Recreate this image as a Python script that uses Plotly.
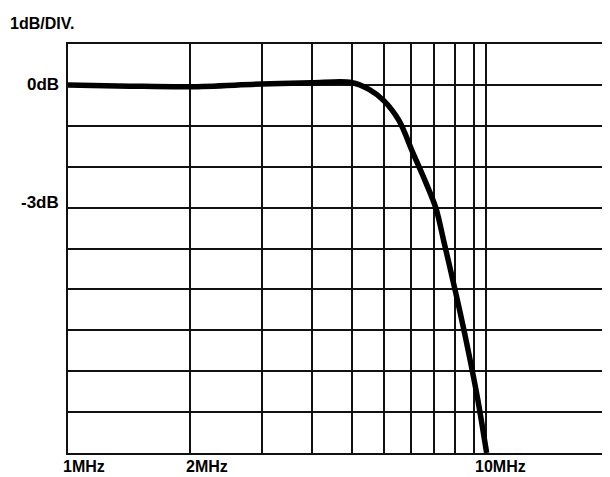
import math
import plotly.graph_objects as go

# Frequency response data
freq_mhz = [1.0, 1.42, 2.0, 3.0, 3.98, 4.99, 5.52, 6.01, 6.54, 7.08, 7.62, 8.07, 8.44, 8.78, 9.24, 9.72, 10.23, 10.76]
gain_db = [0.0, -0.03, -0.045, 0.02, 0.05, 0.06, -0.11, -0.39, -0.87, -1.66, -2.39, -3.02, -3.83, -4.56, -5.53, -6.56, -7.69, -9.0]

# Grid / tick definitions
grid_mhz = [1, 2, 3, 4, 5, 6, 7, 8, 9, 10, 10.7]
x_labels = ["1MHz", "2MHz", "10MHz"]
x_label_pos = [1, 2, 10]
y_labels = ["0dB", "-3dB"]
y_label_pos = [0, -3]
x_max_mhz = 21.3
y_range = [-9, 1]

FONT = "Liberation Sans, Arial, sans-serif"

fig = go.Figure()
fig.add_trace(go.Scatter(
    x=freq_mhz, y=gain_db, mode="lines",
    line=dict(color="black", width=5.5, shape="spline", smoothing=0.9),
    hoverinfo="skip", showlegend=False,
))

annotations = []
annotations.append(dict(text="<b>1dB/DIV.</b>", xref="paper", yref="paper", x=0, y=1,
                        xanchor="left", yanchor="middle", xshift=-60, yshift=21,
                        showarrow=False, font=dict(family=FONT, size=16, color="black")))
yshifts = [0, 5]
for lab, pos, ys in zip(y_labels, y_label_pos, yshifts):
    annotations.append(dict(text=f"<b>{lab}</b>", xref="paper", yref="y", x=0, y=pos,
                            xanchor="right", yanchor="middle", xshift=-7, yshift=ys,
                            showarrow=False, font=dict(family=FONT, size=17, color="black")))
xshifts = [-7, -6, -1]
for lab, pos, xs in zip(x_labels, x_label_pos, xshifts):
    annotations.append(dict(text=f"<b>{lab}</b>", xref="x", yref="paper", x=math.log10(pos), y=0,
                            xanchor="left", yanchor="bottom", xshift=xs, yshift=-24,
                            showarrow=False, font=dict(family=FONT, size=16, color="black")))

# The page body has an 8px default margin, so the figure is sized to fit the window.
fig.update_layout(
    width=602, height=469,
    margin=dict(l=60, r=1, t=36, b=24),
    paper_bgcolor="white", plot_bgcolor="white",
    annotations=annotations,
    xaxis=dict(type="log", range=[0, math.log10(x_max_mhz)],
               tickvals=grid_mhz, showticklabels=False, ticks="",
               showgrid=True, gridcolor="#111", gridwidth=1.5,
               showline=True, mirror=True, linecolor="#111", linewidth=2, zeroline=False),
    yaxis=dict(range=y_range, tick0=0, dtick=1, showticklabels=False, ticks="",
               showgrid=True, gridcolor="#111", gridwidth=1.5,
               showline=True, mirror=True, linecolor="#111", linewidth=2, zeroline=False),
)

fig.write_html("out.html")
